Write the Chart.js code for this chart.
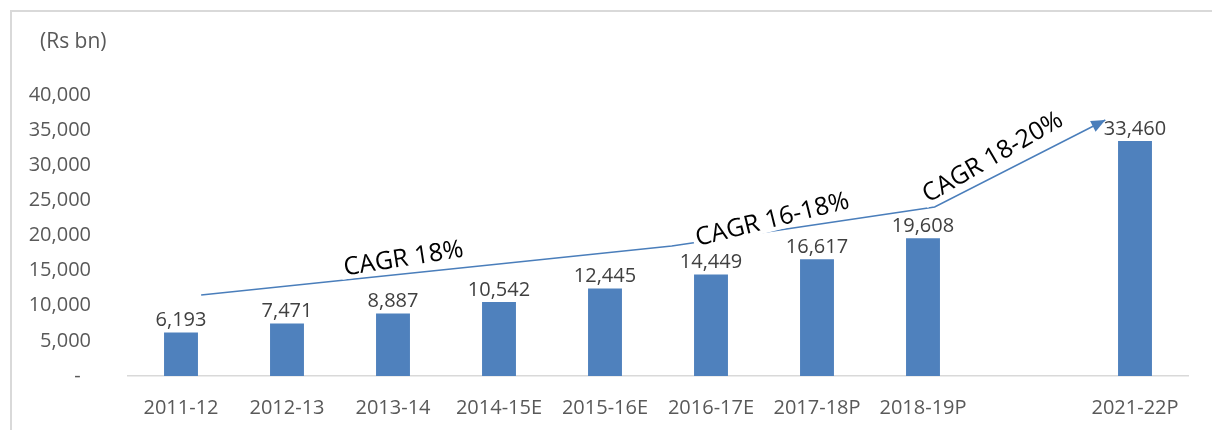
<!DOCTYPE html>
<html>
<head>
<meta charset="utf-8">
<script src="https://cdn.jsdelivr.net/npm/chart.js@4/dist/chart.umd.min.js"></script>
<style>
  body { margin: 0; background: #fff; }
  #frame { position: absolute; left: 10px; top: 10px; width: 1202px; height: 420px;
           border-left: 2px solid #d9d9d9; border-top: 2px solid #d9d9d9; box-sizing: border-box; }
  #wrap { position: absolute; left: 0; top: 0; width: 1212px; height: 430px; }
</style>
</head>
<body>
<div id="frame"></div>
<div id="wrap"><canvas id="marketChart"></canvas></div>
<script>
// categories (blank slot between 2018-19P and 2021-22P)
const years = ['2011-12', '2012-13', '2013-14', '2014-15E', '2015-16E', '2016-17E', '2017-18P', '2018-19P', '', '2021-22P'];
// market size, Rs bn
const marketSize = [6193, 7471, 8887, 10542, 12445, 14449, 16617, 19608, null, 33460];
const yTicks = [0, 5000, 10000, 15000, 20000, 25000, 30000, 35000, 40000];
const unitLabel = '(Rs bn)';

// CAGR trend line (x in category index units, y in Rs bn)
const cagrX = [0.19, 4.63, 7.11, 8.72];
const cagrY = [11530, 18505, 24057, 36441];
const cagrText = ['CAGR 18%', 'CAGR 16-18%', 'CAGR 18-20%'];
const cagrTextX = [2.10, 5.58, 7.66];
const cagrTextY = [16655, 22206, 31100];
const cagrTextAngle = [-9, -14, -30];

const FONT = '"Open Sans", sans-serif';

// unit label + value labels above bars
const barLabels = {
  id: 'barLabels',
  afterDatasetsDraw(chart) {
    const ctx = chart.ctx;
    const meta = chart.getDatasetMeta(0);
    ctx.save();
    ctx.font = '21px ' + FONT;
    ctx.fillStyle = '#595959';
    ctx.textAlign = 'left';
    ctx.textBaseline = 'middle';
    ctx.fillText(unitLabel, 40, 42);

    ctx.font = '20px ' + FONT;
    ctx.fillStyle = '#404040';
    ctx.textAlign = 'center';
    meta.data.forEach((bar, i) => {
      if (marketSize[i] == null) return;
      ctx.fillText(marketSize[i].toLocaleString('en-US'), bar.x, bar.y - 12);
    });
    ctx.restore();
  }
};

// CAGR labels and arrow head
const cagrNotes = {
  id: 'cagrNotes',
  afterDatasetsDraw(chart) {
    const ctx = chart.ctx;
    const xs = chart.scales.x2, ys = chart.scales.y;
    ctx.save();
    ctx.font = '25px ' + FONT;
    ctx.textAlign = 'center';
    ctx.textBaseline = 'middle';
    cagrText.forEach((t, i) => {
      const px = xs.getPixelForValue(cagrTextX[i]);
      const py = ys.getPixelForValue(cagrTextY[i]);
      ctx.save();
      ctx.translate(px, py);
      ctx.rotate(cagrTextAngle[i] * Math.PI / 180);
      const w = ctx.measureText(t).width;
      ctx.fillStyle = '#fff';
      ctx.fillRect(-w / 2 - 3, -15, w + 6, 26);
      ctx.fillStyle = '#000';
      ctx.fillText(t, 0, 0);
      ctx.restore();
    });

    // arrow head on the last segment
    const pts = chart.getDatasetMeta(1).data;
    const a = pts[pts.length - 2], b = pts[pts.length - 1];
    const ang = Math.atan2(b.y - a.y, b.x - a.x);
    ctx.translate(b.x, b.y);
    ctx.rotate(ang);
    ctx.fillStyle = '#4a7ebb';
    ctx.beginPath();
    ctx.moveTo(0, 0);
    ctx.lineTo(-14, -6);
    ctx.lineTo(-14, 6);
    ctx.closePath();
    ctx.fill();
    ctx.restore();
  }
};

const ctx = document.getElementById('marketChart').getContext('2d');
new Chart(ctx, {
  data: {
    labels: years,
    datasets: [
      {
        type: 'bar',
        data: marketSize,
        backgroundColor: '#4f81bd',
        barPercentage: 0.32,
        categoryPercentage: 1,
        grouped: false,
        order: 2
      },
      {
        type: 'line',
        data: cagrX.map((x, i) => ({ x: x, y: cagrY[i] })),
        xAxisID: 'x2',
        borderColor: '#4a7ebb',
        borderWidth: 1.5,
        pointRadius: 0,
        tension: 0,
        order: 1
      }
    ]
  },
  options: {
    responsive: true,
    maintainAspectRatio: false,
    animation: false,
    layout: { padding: { left: 10, right: 24, top: 95, bottom: 0 } },
    plugins: {
      legend: { display: false },
      tooltip: { enabled: false }
    },
    scales: {
      x: {
        grid: { display: false },
        border: { display: true, color: '#d9d9d9', width: 1.5 },
        ticks: { color: '#595959', font: { family: FONT, size: 20 }, padding: 12, maxRotation: 0, autoSkip: false },
        afterFit: axis => { axis.height = 54; }
      },
      x2: {
        type: 'linear',
        display: false,
        min: -0.5,
        max: 9.5
      },
      y: {
        min: 0,
        max: 40000,
        grid: { display: false },
        border: { display: false },
        afterBuildTicks: axis => { axis.ticks = yTicks.map(v => ({ value: v })); },
        ticks: {
          color: '#595959',
          font: { family: FONT, size: 20 },
          padding: 29,
          callback: v => v === 0 ? '-  ' : v.toLocaleString('en-US')
        },
        afterFit: axis => { axis.width = 118; }
      }
    }
  },
  plugins: [barLabels, cagrNotes]
});
</script>
</body>
</html>
